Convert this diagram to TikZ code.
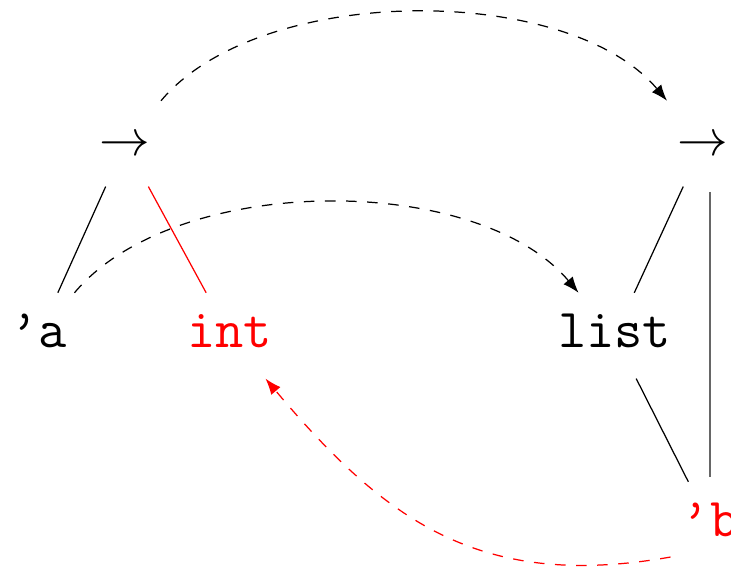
\documentclass[tikz,border=0pt]{standalone}
\usetikzlibrary{positioning,arrows.meta}
\tikzset{
  typeNode/.style={
    font=\fontsize{15.6}{19}\selectfont\ttfamily,
    text height=10pt,
    text depth=3pt,
    inner xsep=3pt,
    inner ysep=5.5pt,
    anchor=base
 },
  treeLine/.style={
    line width=0.35pt
 },
  unifyArrow/.style={
    dashed,
    -{Latex},
    line width=0.35pt
 }
}

\begin{document}
\begin{tikzpicture}[x=0.01cm,y=0.01cm]
    \useasboundingbox (0,0) rectangle (731,571);

    % left type
    \node[typeNode] (arrL) at (125,415) {$\rightarrow$};
    \node[typeNode] (qa) at (38.5,223) {’a};
    \node[typeNode, text=red] (int) at (229.5,223) {int};

    % right type
    \node[typeNode] (arrR) at (703,415) {$\rightarrow$};
    \node[typeNode] (list) at (614.5,223) {list};
    \node[typeNode, text=red] (qb) at (710,34) {’b};

    \draw[treeLine] (arrL) -- (qa);
    \draw[treeLine, red] (arrL) -- (int);
    \draw[treeLine] (arrR) -- (list);
    \draw[treeLine] (list) -- (qb);
    \draw[black!60, line width=0.5pt] ([yshift=-1.5pt]arrR.south -| qb.north) -- ([yshift=1.5pt]qb.north);

    % unification steps
    \draw[unifyArrow] (arrL) to[out=50, in=130, looseness=0.78] (arrR);
    \draw[unifyArrow] (qa) to[out=50, in=130, looseness=0.8] (list);
    \draw[unifyArrow, red] ([yshift=3pt]qb.south west) to[out=190, in=-50, looseness=1.1] (int);
\end{tikzpicture}
\end{document}
